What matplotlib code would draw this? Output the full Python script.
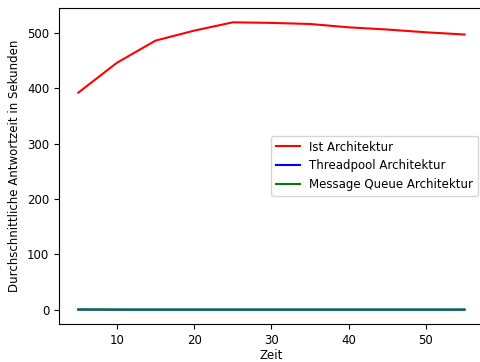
import matplotlib
matplotlib.use("Agg")
import matplotlib.pyplot as plt

# Zeitpunkte und Antwortzeiten
zeit = [5, 10, 15, 20, 25, 30, 35, 40, 45, 50, 55]
ist = [392, 446, 486, 504, 519, 518, 516, 510, 506, 501, 497]
threadpool = [0.5, 0.3, 0.3, 0.3, 0.3, 0.3, 0.3, 0.3, 0.3, 0.3, 0.3]
mqueue = [0.5, 0.3, 0.3, 0.3, 0.3, 0.3, 0.3, 0.3, 0.3, 0.3, 0.3]

plt.rcParams['font.size'] = 8.5

fig = plt.figure(figsize=(4.8, 3.62), dpi=100)
# rechter Rand ist im Original abgeschnitten
ax = fig.add_axes([0.1229, 0.105, 0.885, 0.873])
ax.plot(zeit, ist, color='red', label='Ist Architektur')
ax.plot(zeit, threadpool, color='blue', label='Threadpool Architektur')
ax.plot(zeit, mqueue, color='green', label='Message Queue Architektur')
ax.set_xlabel('Zeit', labelpad=2)
ax.set_ylabel('Durchschnittliche Antwortzeit in Sekunden')
ax.legend()
fig.savefig('out.png')
